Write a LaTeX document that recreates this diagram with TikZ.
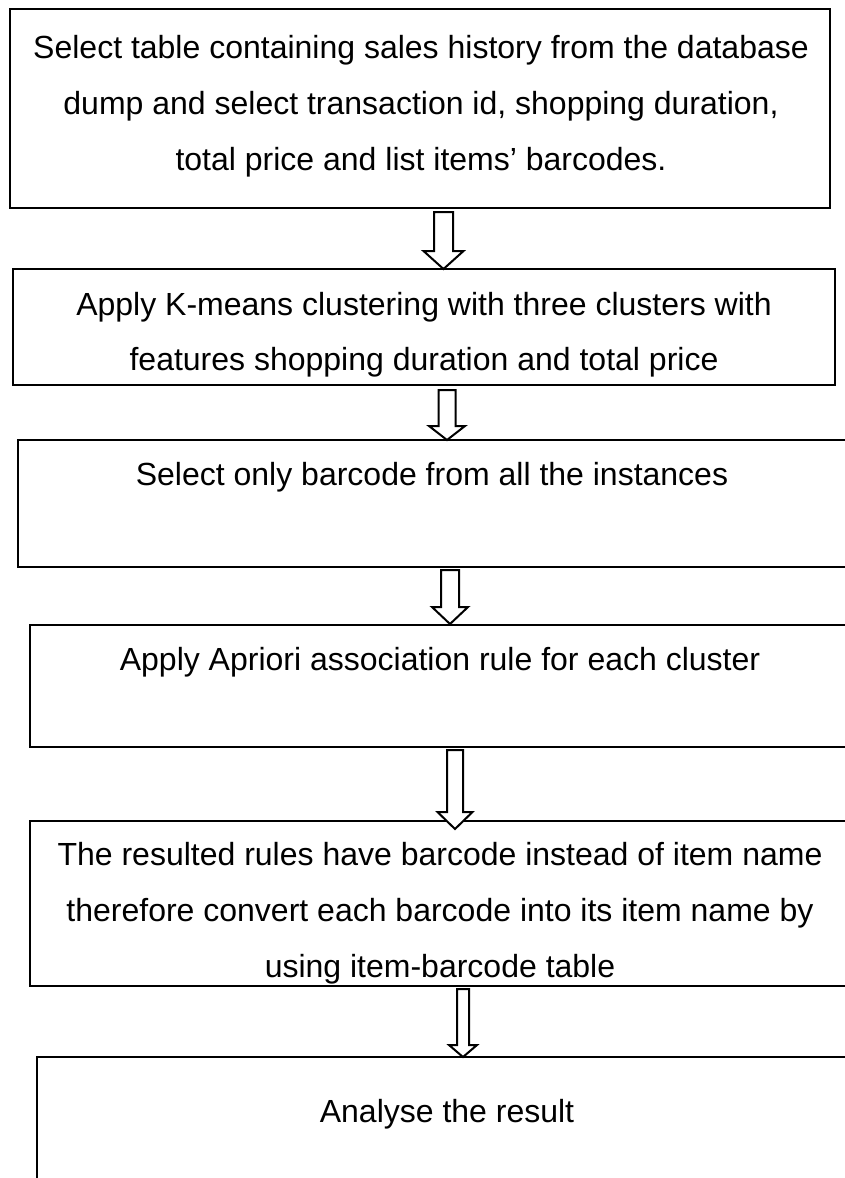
\documentclass[tikz,border=0pt]{standalone}
\usepackage{fontspec}
\setmainfont{Liberation Sans}
\tikzset{
  stepbox/.style={draw=black, line width=2.6pt, fill=none},
  txt/.style={anchor=base, inner sep=0pt, font=\fontsize{32}{38}\selectfont},
  blockarr/.style={draw=black, line width=2pt, fill=white, line join=miter},
}
% #1 centre x, #2 shaft top, #3 head base, #4 tip y, #5 half shaft, #6 half head
\newcommand{\blockarrow}[6]{%
  \draw[blockarr] (#1-#5,#2) -- (#1+#5,#2) -- (#1+#5,#3) -- (#1+#6,#3) -- (#1,#4)
     -- (#1-#6,#3) -- (#1-#5,#3) -- cycle;}
\begin{document}
\begin{tikzpicture}[x=1pt,y=-1pt]
\useasboundingbox[fill=white] (0,0) rectangle (845,1178);
\clip (0,0) rectangle (845,1178);
% boxes
\draw[stepbox] (10,9) rectangle (830,208);
\draw[stepbox] (13,269) rectangle (835,385);
\draw[stepbox] (18,440) rectangle (860,567);
\draw[stepbox] (30,625) rectangle (870,747);
\draw[stepbox] (30,821) rectangle (870,986);
\draw[stepbox] (37,1057) rectangle (880,1200);
% texts
\node[txt] (t1a) at (421,58) {Select table containing sales history from the database};
\node[txt] (t1b) at (421,114) {dump and select transaction id, shopping duration,};
\node[txt] (t1c) at (421,170) {total price and list items’ barcodes.};
\node[txt] (t2a) at (424,315) {Apply K-means clustering with three clusters with};
\node[txt] (t2b) at (424,370) {features shopping duration and total price};
\node[txt] (t3) at (432,485) {Select only barcode from all the instances};
\node[txt] (t4) at (440,670) {Apply Apriori association rule for each cluster};
\node[txt] (t5a) at (440,865) {The resulted rules have barcode instead of item name};
\node[txt] (t5b) at (440,921) {therefore convert each barcode into its item name by};
\node[txt] (t5c) at (440,977) {using item-barcode table};
\node[txt] (t6) at (447,1122) {Analyse the result};
% arrows
\blockarrow{443.5}{212}{251}{269}{9.5}{20}
\blockarrow{447}{390}{426}{440}{8.5}{18}
\blockarrow{450}{570}{607}{624}{9}{18}
\blockarrow{455}{750}{812}{829}{8}{17.5}
\blockarrow{463}{989}{1045}{1057}{6}{14}
\end{tikzpicture}
\end{document}
